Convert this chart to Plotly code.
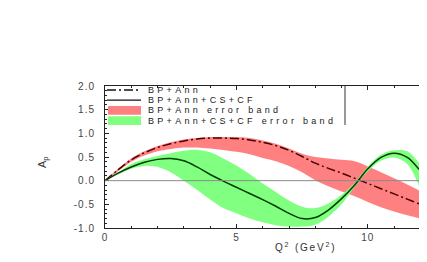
import plotly.graph_objects as go

# ---- data ----
q2 = [0, 0.5, 1, 1.5, 2, 2.5, 3, 3.5, 4, 4.5, 5, 5.5, 6, 6.5, 7, 7.5, 8, 8.5,
      9, 9.5, 10, 10.5, 11, 11.5, 12, 12.2]

bp_ann = [0, 0.23, 0.44, 0.59, 0.70, 0.78, 0.84, 0.88, 0.90, 0.90, 0.89, 0.86,
          0.81, 0.74, 0.64, 0.51, 0.37, 0.26, 0.16, 0.05, -0.06, -0.17, -0.28,
          -0.39, -0.50, -0.54]
bp_ann_hi = [0, 0.25, 0.47, 0.62, 0.73, 0.81, 0.87, 0.90, 0.92, 0.92, 0.92, 0.90,
             0.85, 0.78, 0.68, 0.57, 0.50, 0.47, 0.44, 0.41, 0.30, 0.18, 0.05,
             -0.08, -0.22, -0.27]
bp_ann_lo = [0, 0.20, 0.40, 0.53, 0.62, 0.67, 0.70, 0.70, 0.68, 0.65, 0.61, 0.56,
             0.48, 0.41, 0.31, 0.18, 0.01, -0.12, -0.23, -0.33, -0.45, -0.56,
             -0.65, -0.73, -0.80, -0.82]

bp_full = [0, 0.16, 0.29, 0.39, 0.45, 0.47, 0.42, 0.29, 0.13, -0.01, -0.14, -0.27,
           -0.40, -0.54, -0.69, -0.80, -0.78, -0.62, -0.38, -0.09, 0.25, 0.49,
           0.58, 0.49, 0.21, 0.10]
bp_full_hi = [0, 0.17, 0.35, 0.45, 0.52, 0.58, 0.63, 0.65, 0.60, 0.47, 0.32, 0.14,
              -0.06, -0.24, -0.42, -0.55, -0.58, -0.48, -0.30, -0.05, 0.30, 0.55,
              0.64, 0.62, 0.35, 0.28]
bp_full_lo = [0, 0.13, 0.25, 0.31, 0.29, 0.18, 0.0, -0.19, -0.40, -0.58, -0.69,
              -0.80, -0.88, -0.94, -0.97, -0.97, -0.93, -0.76, -0.50, -0.13, 0.20,
              0.42, 0.49, 0.35, -0.15, -0.28]

legend_names = ["BP+Ann", "BP+Ann+CS+CF", "BP+Ann error band",
                "BP+Ann+CS+CF error band"]
y_ticks = [-1.0, -0.5, 0.0, 0.5, 1.0, 1.5, 2.0]
y_tick_labels = ["-1.0", "-0.5", "0.0", "0.5", "1.0", "1.5", "2.0"]
x_ticks = [0, 5, 10]
x_tick_labels = ["0", "5", "10"]

# ---- styles ----
RED_FILL = "#ff8080"
GREEN_FILL = "#80ff80"
RED_LINE = "#4a0000"
GREEN_LINE = "#003d00"
DASHDOT = "9px,3px,2px,3px"
FONT = "Liberation Sans, Arial, sans-serif"

OFF = 8                      # default page body margin
W, H = 427 - OFF, 262 - OFF
PL, PR, PT, PB = 105, 427, 86, 228   # plot area in page pixels
ML, MR, MT, MB = PL - OFF, 427 - PR, PT - OFF, 262 - PB


def spaced(t, sp):
    return f'<span style="letter-spacing:{sp}px">{t}</span>'


def px(x):
    return (x - PL) / (PR - PL)


def py(y):
    return (PB - y) / (PB - PT)


fig = go.Figure()
fig.add_trace(go.Scatter(x=q2 + q2[::-1], y=bp_ann_hi + bp_ann_lo[::-1],
                         fill="toself", fillcolor=RED_FILL, line=dict(width=0),
                         mode="lines", line_shape="spline", showlegend=False,
                         hoverinfo="skip"))
fig.add_trace(go.Scatter(x=q2 + q2[::-1], y=bp_full_hi + bp_full_lo[::-1],
                         fill="toself", fillcolor=GREEN_FILL, line=dict(width=0),
                         mode="lines", line_shape="spline", showlegend=False,
                         hoverinfo="skip"))
fig.add_trace(go.Scatter(x=q2, y=bp_ann, mode="lines", line_shape="spline",
                         line=dict(color=RED_LINE, width=1.5, dash=DASHDOT),
                         showlegend=False))
fig.add_trace(go.Scatter(x=q2, y=bp_full, mode="lines", line_shape="spline",
                         line=dict(color=GREEN_LINE, width=1.5),
                         showlegend=False))

shapes = []
shapes.append(dict(type="line", xref="paper", yref="y", x0=0, x1=1, y0=0, y1=0,
                   line=dict(color="#8a8a8a", width=1), layer="above"))
shapes.append(dict(type="line", xref="paper", yref="paper", x0=px(345), x1=px(345),
                   y0=py(86), y1=py(125), line=dict(color="#333", width=1)))
rows = [90, 100.2, 110.4, 120.6]
shapes.append(dict(type="line", xref="paper", yref="paper", x0=px(107), x1=px(141),
                   y0=py(rows[0]), y1=py(rows[0]),
                   line=dict(color="#111", width=1.3, dash=DASHDOT)))
shapes.append(dict(type="line", xref="paper", yref="paper", x0=px(107), x1=px(141),
                   y0=py(rows[1]), y1=py(rows[1]),
                   line=dict(color="#111", width=1.3)))
shapes.append(dict(type="rect", xref="paper", yref="paper", x0=px(108), x1=px(141),
                   y0=py(rows[2] + 4.4), y1=py(rows[2] - 4.4),
                   fillcolor=RED_FILL, line=dict(width=0)))
shapes.append(dict(type="rect", xref="paper", yref="paper", x0=px(108), x1=px(141),
                   y0=py(rows[3] + 4.4), y1=py(rows[3] - 4.4),
                   fillcolor=GREEN_FILL, line=dict(width=0)))

annotations = []
for name, r in zip(legend_names, rows):
    annotations.append(dict(text=spaced(name, 3.3), xref="paper", yref="paper",
                            x=px(146), y=py(r), xanchor="left", yanchor="middle",
                            showarrow=False,
                            font=dict(family=FONT, size=9, color="#222")))
annotations.append(dict(text=spaced("Q<sup>2</sup> (GeV<sup>2</sup>)", 1.8),
                        xref="paper", yref="paper", x=px(305), y=py(247),
                        xanchor="center", yanchor="middle", showarrow=False,
                        font=dict(family=FONT, size=10, color="#333")))
annotations.append(dict(text="A<sub>p</sub>", xref="paper", yref="paper",
                        x=px(43), y=py(162), xanchor="center", yanchor="middle",
                        textangle=-90, showarrow=False,
                        font=dict(family=FONT, size=11, color="#333")))

fig.update_layout(
    width=W, height=H, margin=dict(l=ML, r=MR, t=MT, b=MB),
    paper_bgcolor="white", plot_bgcolor="white", showlegend=False,
    shapes=shapes, annotations=annotations,
    xaxis=dict(range=[0, 12.25], showline=True, linecolor="#222", linewidth=1,
               mirror="allticks", ticks="inside", ticklen=4, tickcolor="#222",
               tickvals=x_ticks, ticktext=[spaced(t, 1) for t in x_tick_labels],
               minor=dict(dtick=1, ticks="inside", ticklen=2, tickcolor="#222"),
               showgrid=False, zeroline=False,
               tickfont=dict(family=FONT, size=10, color="#444")),
    yaxis=dict(range=[-1, 2], showline=True, linecolor="#222", linewidth=1,
               mirror=False, ticks="inside", ticklen=4, tickcolor="#222",
               tickvals=y_ticks, ticktext=[spaced(t, 1) for t in y_tick_labels],
               minor=dict(dtick=0.1, ticks="inside", ticklen=2, tickcolor="#222"),
               showgrid=False, zeroline=False, ticklabelstandoff=7,
               tickfont=dict(family=FONT, size=10, color="#444")),
)

fig.write_html("out.html")
